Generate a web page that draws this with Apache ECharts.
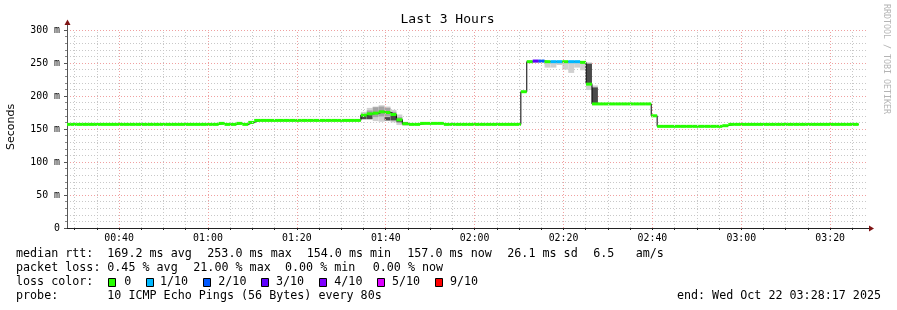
<!DOCTYPE html>
<html><head><meta charset="utf-8">
<script src="https://cdn.jsdelivr.net/npm/echarts@6/dist/echarts.min.js"></script>
<style>html,body{margin:0;padding:0;background:#fff}#c{width:897px;height:310px}</style>
</head><body><div id="c"></div>
<script>
// ---------- data (times in minutes after midnight, values in ms) ----------
const axisStart = 28 + 17/60;          // 00:28:17
const axisEnd = 208 + 17/60;           // 03:28:17
const firstStepStart = 27 + 44/60;     // start of step 0
const stepMinutes = 80/60;             // one probe every 80 s
const timeLabels = [40, 60, 80, 100, 120, 140, 160, 180, 200];
const timeGrid = [30,35,40,45,50,55,60,65,70,75,80,85,90,95,100,105,110,115,120,125,130,135,140,145,150,155,160,165,170,175,180,185,190,195,200,205];
const median = [
157,157,157,157,157,157,157,157,157,157,157,157,157,157,157,157,157,157,157,157,157,157,157,157,157,157,
158.5,157,157,158.5,157,160,
163,163,163,163,163,163,163,163,163,163,163,163,163,163,163,163,163,163,
171,173,174,176,175,172,164,158,
157,157,158.5,158.5,158.5,158.5,
157,157,157,157,157,157,157,157,157,157,157,157,157,
206.5,
252,253,253,252,252,252,252,252,252,251,
218,
188,188,188,188,188,188,188,188,188,188,
170,
154,154,154,154,154,154,154,154,154,154,154,
155,
157,157,157,157,157,157,157,157,157,157,157,157,157,157,157,157,157,157,157,157,157,157
];
const lossStep = [79, 80, 82, 83, 85, 86];
const lossLevel = [3, 2, 1, 1, 1, 1];
const lossColors = ['#26ff00','#00b8ff','#0059ff','#5e00ff','#7e00ff','#dd00ff','#ff0000'];
const lossLabels = ['0','1/10','2/10','3/10','4/10','5/10','9/10'];
const smokeStep = [50,51,52,53,54,55,56,57,58,78,79,80,81,82,83,84,85,86,87,88,89];
const lightLo = [164,164,162,161,162,160,156,155,156,250,250,250,243,243,247,240,235,243,239,209,189];
const lightHi = [176,182,184,186,184,179,172,161,159,254,254,254,253,253,253,253,253,253,253,251,216];
const midLo   = [null,170,168,169,169,166,159,null,null,null,null,null,null,null,null,null,null,null,null,null,null];
const midHi   = [null,178,183,184,182,176,168,null,null,null,null,null,null,null,null,null,null,null,null,null,null];
const darkLo  = [165,165,null,null,163,163,161,157,null,null,null,null,null,null,null,null,null,null,null,219,189];
const darkHi  = [172,171,null,null,168,170,165,160,null,null,null,null,null,null,null,null,null,null,null,249,213];
const statsLine1 = [['median rtt:',16],['169.2 ms avg',107.3],['253.0 ms max',207.3],['154.0 ms min',306.7],['157.0 ms now',407.3],['26.1 ms sd',507.3],['6.5',593.3],['am/s',635.7]];
const statsLine2 = [['packet loss:',16],['0.45 % avg',107.3],['21.00 % max',193.3],['0.00 % min',285],['0.00 % now',372.7]];

// ---------- build ----------
const stepStart = j => Math.max(axisStart, firstStepStart + j*stepMinutes);
const stepEnd = j => Math.min(axisEnd, firstStepStart + (j+1)*stepMinutes);
const colorOf = j => { const k = lossStep.indexOf(j); return k < 0 ? lossColors[0] : lossColors[lossLevel[k]]; };
const medianRects = median.map((v,j) => [stepStart(j), stepEnd(j), v]);
const stepLine = median.map((v,j) => [stepStart(j), v]);
stepLine.push([stepEnd(median.length-1), median[median.length-1]]);
const smokeRects = [];
smokeStep.forEach((s,i) => {
  smokeRects.push([stepStart(s), stepEnd(s), lightLo[i], lightHi[i], '#d0d0d0']);
  if (midLo[i] != null) smokeRects.push([stepStart(s), stepEnd(s), midLo[i], midHi[i], '#a4a4a4']);
  if (darkLo[i] != null) smokeRects.push([stepStart(s), stepEnd(s), darkLo[i], darkHi[i], '#4a4a4a']);
});
const pad = n => String(n).padStart(2,'0');
const hhmm = m => pad(Math.floor(m/60)) + ':' + pad(Math.round(m%60));

const MONO = "'DejaVu Sans Mono', monospace";
const chart = echarts.init(document.getElementById('c'), null, {renderer:'canvas'});
const graphic = [];
const txt = (text, x, y, size, opts) => Object.assign({type:'text', silent:true, style:Object.assign({text, x, y, fill:'#000', font: size+'px '+MONO, textAlign:'left', textVerticalAlign:'middle'}, opts||{})});
graphic.push(txt('Last 3 Hours', 447.5, 19.5, 13, {textAlign:'center'}));
graphic.push({type:'text', silent:true, x:11, y:127, rotation:Math.PI/2, style:{text:'Seconds', x:0, y:0, fill:'#000', font:"11px 'DejaVu Sans', sans-serif", textAlign:'center', textVerticalAlign:'middle'}});
graphic.push({type:'text', silent:true, x:886, y:59, rotation:-Math.PI/2, style:{text:'RRDTOOL / TOBI OETIKER', x:0, y:0, fill:'#b4b4b4', font:'8.3px '+MONO, textAlign:'center', textVerticalAlign:'middle'}});
statsLine1.forEach(([t,x]) => graphic.push(txt(t, x, 254, 11.7)));
statsLine2.forEach(([t,x]) => graphic.push(txt(t, x, 268, 11.7)));
graphic.push(txt('loss color:', 16, 282, 11.7));
const swX = [108.5,146.5,203.5,261.5,319.5,377.5,435.5];
const lbX = [124.3,160,218.3,276,334.3,392,450];
lossLabels.forEach((l,i) => {
  graphic.push({type:'rect', silent:true, shape:{x:swX[i], y:278.5, width:7, height:8}, style:{fill:lossColors[i], stroke:'#000', lineWidth:1}});
  graphic.push(txt(l, lbX[i], 282, 11.7));
});
graphic.push(txt('probe:', 16, 296, 11.7));
graphic.push(txt('10 ICMP Echo Pings (56 Bytes) every 80s', 107.3, 296, 11.7));
graphic.push(txt('end: Wed Oct 22 03:28:17 2025', 881, 296, 11.7, {textAlign:'right'}));
// axis extensions and arrows
graphic.push({type:'line', silent:true, shape:{x1:67.5, y1:30, x2:67.5, y2:23}, style:{stroke:'#555', lineWidth:1}});
graphic.push({type:'polygon', silent:true, shape:{points:[[64.5,25],[70.5,25],[67.5,19.5]]}, style:{fill:'#7f1414'}});
graphic.push({type:'line', silent:true, shape:{x1:867, y1:228.5, x2:871, y2:228.5}, style:{stroke:'#222', lineWidth:1}});
graphic.push({type:'polygon', silent:true, shape:{points:[[869,225.5],[869,231.5],[874,228.5]]}, style:{fill:'#7f1414'}});

const option = {
  animation: false,
  backgroundColor: '#fff',
  grid: {left:67, right:30, top:30, bottom:82, containLabel:false},
  xAxis: {
    type:'value', min:axisStart, max:axisEnd,
    axisLine:{show:true, lineStyle:{color:'#222', width:1}},
    axisTick:{show:true, length:2, lineStyle:{color:'#222'}, customValues: timeGrid},
    axisLabel:{customValues: timeLabels, formatter: v => hhmm(v), fontFamily:MONO, fontSize:9.9, color:'#000', margin:5},
    splitLine:{show:false}
  },
  yAxis: {
    type:'value', min:0, max:300, interval:50,
    axisLine:{show:true, lineStyle:{color:'#555', width:1}},
    axisTick:{show:true, length:3, lineStyle:{color:'#555'}},
    minorTick:{show:true, splitNumber:5, length:2, lineStyle:{color:'#888'}},
    axisLabel:{formatter: v => v === 0 ? '0' : v + ' m', fontFamily:MONO, fontSize:9.9, color:'#000', margin:7},
    splitLine:{show:true, lineStyle:{color:'#f0a0a0', type:[1,2], width:1}},
    minorSplitLine:{show:true, lineStyle:{color:'#c8c8c8', type:[1,2], width:1}}
  },
  graphic: graphic,
  series: [
    { type:'line', data:[[axisStart, 0]], symbol:'none', lineStyle:{opacity:0}, silent:true, z:1,
      markLine:{silent:true, symbol:'none', label:{show:false}, animation:false,
        data: timeGrid.map(m => ({xAxis:m, lineStyle:{color: m%20===0 ? '#f0a0a0' : '#c8c8c8', type:[1,2], width:1}}))}
    },
    { type:'custom', z:2, silent:true, clip:true, data: smokeRects,
      renderItem: (p, api) => {
        const a = api.coord([api.value(0), api.value(3)]);
        const b = api.coord([api.value(1), api.value(2)]);
        return {type:'rect', shape:{x:a[0], y:a[1], width:b[0]-a[0], height:b[1]-a[1]}, style:{fill: smokeRects[p.dataIndex][4]}};
      }
    },
    { type:'line', z:3, silent:true, step:'end', symbol:'none', data: stepLine, lineStyle:{color:'#000', width:1} },
    { type:'custom', z:4, silent:true, clip:true, data: medianRects,
      renderItem: (p, api) => {
        const a = api.coord([api.value(0), api.value(2)]);
        const b = api.coord([api.value(1), api.value(2)]);
        return {type:'rect', shape:{x:a[0], y:a[1]-1.5, width:b[0]-a[0], height:3}, style:{fill: colorOf(p.dataIndex)}};
      }
    }
  ]
};
chart.setOption(option);
</script></body></html>
